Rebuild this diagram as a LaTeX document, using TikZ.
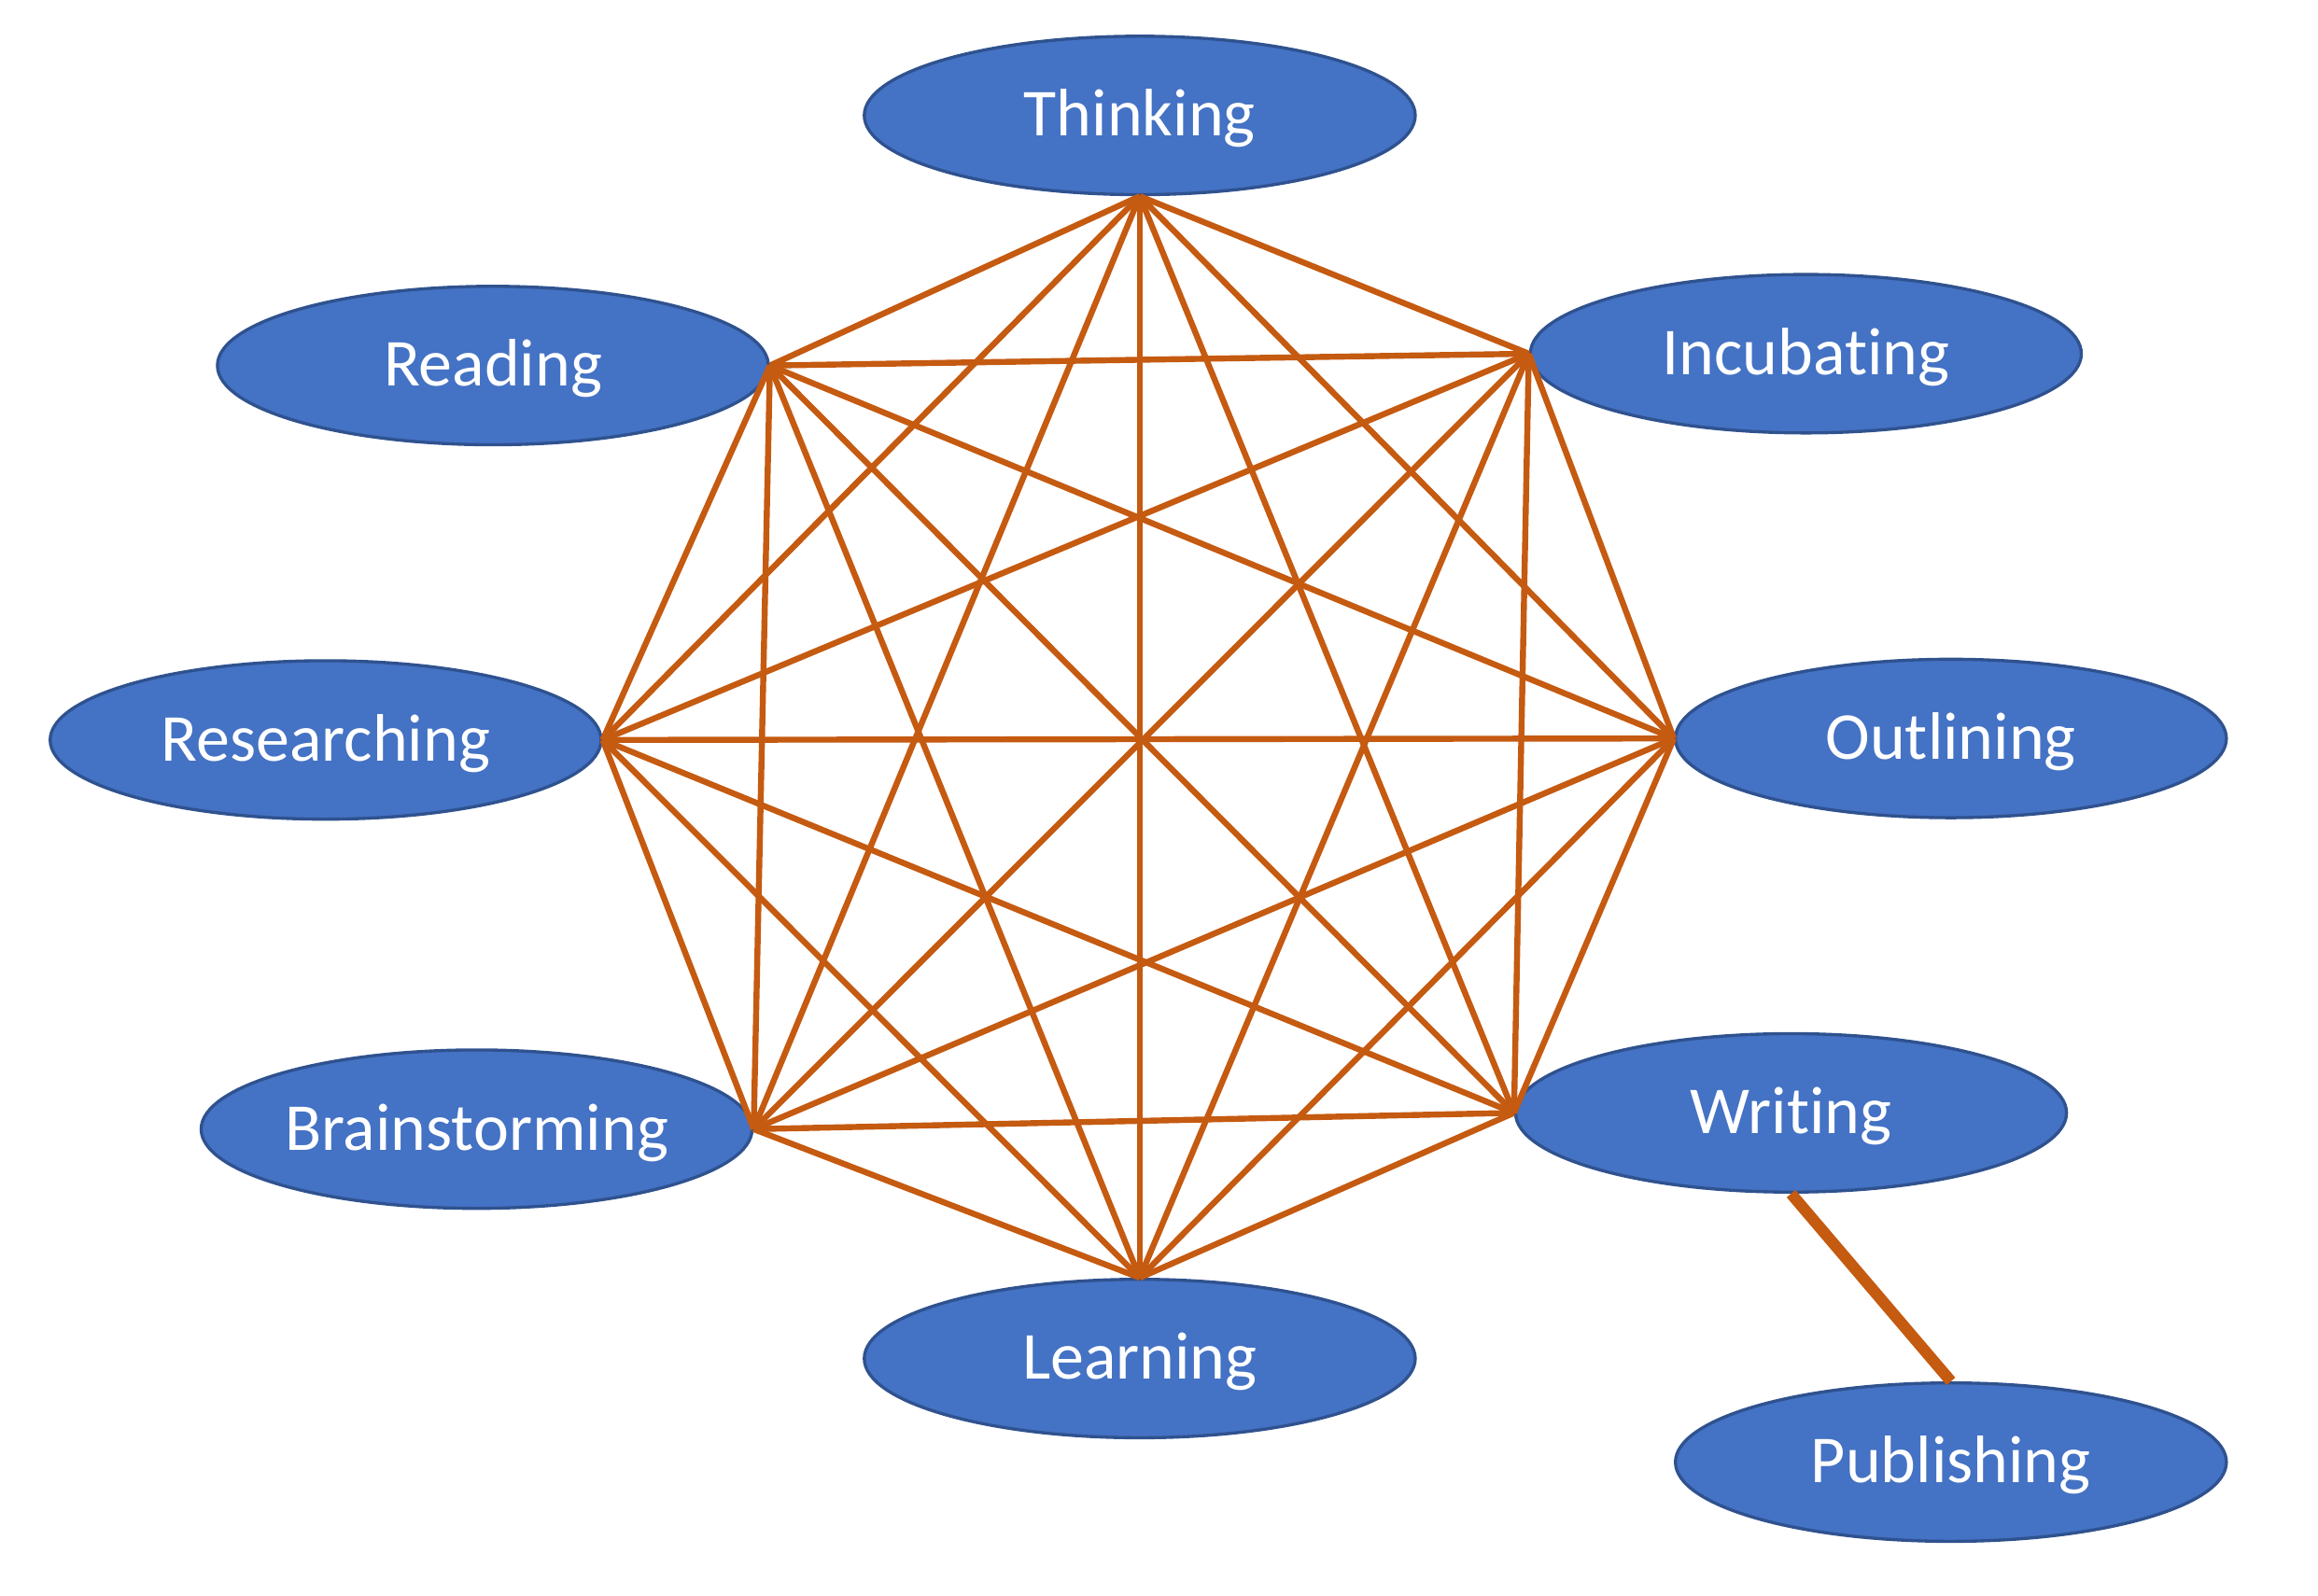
\documentclass[tikz,border=0pt]{standalone}
\usepackage{fontspec}
\setmainfont{Carlito}[Ligatures=CommonOff]
\usepackage{tikz}
\usetikzlibrary{shapes.geometric}
\definecolor{phasefill}{HTML}{4472C4}
\definecolor{phaseline}{HTML}{2F528F}
\definecolor{linkcol}{HTML}{C55A11}

\begin{document}
\begin{tikzpicture}[x=0.01cm,y=-0.01cm,semithick]
  \tikzstyle{phase}=[ellipse,fill=phasefill,draw=phaseline,line width=0.6pt,text=white,inner sep=0pt,minimum width=3.72cm,minimum height=1.07cm,text height=9pt,text depth=1pt,font=\fontsize{12.9}{15}\selectfont]
  \tikzstyle{link}=[draw=linkcol,line width=1.15pt]
  \useasboundingbox (0,0) rectangle (1566,1078);

  \node[phase] (Th) at (770,78)   {Thinking};
  \node[phase] (Rd) at (333,247)  {Reading};
  \node[phase] (In) at (1220,239) {Incubating};
  \node[phase] (Rs) at (220,500)  {Researching};
  \node[phase] (Ou) at (1318,499) {Outlining};
  \node[phase] (Br) at (322,763)  {Brainstorming};
  \node[phase] (Wr) at (1210,752) {Writing};
  \node[phase] (Le) at (770,918)  {Learning};
  \node[phase] (Pu) at (1318,988) {Publishing};

  % meeting points on the ellipses
  \coordinate (th) at (Th.south);
  \coordinate (rd) at (Rd.east);
  \coordinate (in) at (In.west);
  \coordinate (rs) at (Rs.east);
  \coordinate (ou) at (Ou.west);
  \coordinate (br) at (Br.east);
  \coordinate (wr) at (Wr.west);
  \coordinate (le) at (Le.north);

  \path[link] (th) edge (rd) edge (in) edge (rs) edge (ou) edge (br) edge (wr) edge (le)
              (rd) edge (in) edge (rs) edge (ou) edge (br) edge (wr) edge (le)
              (in) edge (rs) edge (ou) edge (br) edge (wr) edge (le)
              (rs) edge (ou) edge (br) edge (wr) edge (le)
              (ou) edge (br) edge (wr) edge (le)
              (br) edge (wr) edge (le)
              (wr) edge (le);
  \path[link,line width=2.2pt] (Wr.south) edge (Pu.north);
\end{tikzpicture}
\end{document}
